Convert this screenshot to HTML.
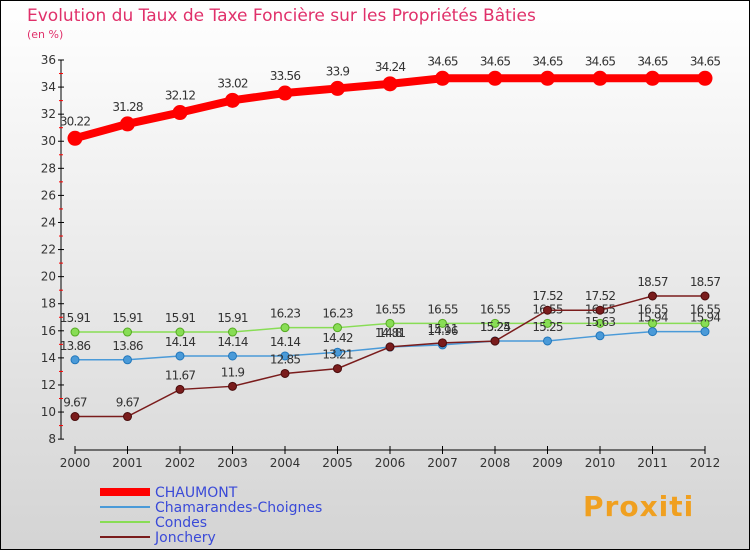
<!DOCTYPE html>
<html><head><meta charset="utf-8"><style>
body{margin:0;width:750px;height:550px;overflow:hidden;font-family:"DejaVu Sans","Liberation Sans",sans-serif}
#wrap{position:absolute;left:0;top:0;width:748px;height:548px;border:1px solid #000;background:linear-gradient(#ffffff,#d4d4d4)}
</style></head><body>
<div id="wrap">
<svg id="chart" width="750" height="550" style="position:absolute;left:-1px;top:-1px"></svg>
</div>
<script>
const years=["2000","2001","2002","2003","2004","2005","2006","2007","2008","2009","2010","2011","2012"];
const chaumont=[30.22,31.28,32.12,33.02,33.56,33.9,34.24,34.65,34.65,34.65,34.65,34.65,34.65];
const chamarandes=[13.86,13.86,14.14,14.14,14.14,14.42,14.8,14.96,15.25,15.25,15.63,15.94,15.94];
const condes=[15.91,15.91,15.91,15.91,16.23,16.23,16.55,16.55,16.55,16.55,16.55,16.55,16.55];
const jonchery=[9.67,9.67,11.67,11.9,12.85,13.21,14.81,15.11,15.24,17.52,17.52,18.57,18.57];
const yTicks=[8,10,12,14,16,18,20,22,24,26,28,30,32,34,36];
const seriesNames=["CHAUMONT","Chamarandes-Choignes","Condes","Jonchery"];
const NS="http://www.w3.org/2000/svg";
const svg=document.getElementById('chart');
function X(i){return 75+i*52.5;}
function Y(v){return 60+(36-v)*13.54;}
function mk(t,a,p){const e=document.createElementNS(NS,t);for(const k in a)e.setAttribute(k,a[k]);(p||svg).appendChild(e);return e;}
function txt(x,y,s,a){const e=mk('text',Object.assign({x:x,y:y,'font-size':12,fill:'#333','font-family':'DejaVu Sans, Liberation Sans, sans-serif'},a||{}));e.textContent=s;return e;}
let t=txt(27,21,"Evolution du Taux de Taxe Foncière sur les Propriétés Bâties",{'font-size':17,fill:'#e0306a'});


t=txt(27,38,"(en %)",{'font-size':11,fill:'#e0306a'});


let ax=mk('line',{x1:61,y1:Y(36),x2:61,y2:Y(8),stroke:'#000','stroke-width':1});


yTicks.forEach(v=>{
 mk('line',{x1:58,x2:64,y1:Y(v),y2:Y(v),stroke:'#000'});
 if(v<36)mk('line',{x1:59,x2:63,y1:Y(v+1),y2:Y(v+1),stroke:'#f00'});
 const l=txt(56,Y(v)+4,String(v),{'text-anchor':'end','font-size':12});
 
 
});
ax=mk('line',{x1:X(0),y1:450,x2:X(12),y2:450,stroke:'#000'});


years.forEach((y,i)=>{
 mk('line',{x1:X(i),x2:X(i),y1:446,y2:454,stroke:'#000'});
 const l=txt(X(i),467,y,{'text-anchor':'middle','font-size':12});
 
 
});
function series(d,col,w,r,name,lc){
 const g=mk('g',{});
 
 
 mk('polyline',{points:d.map((v,i)=>X(i)+','+Y(v)).join(' '),fill:'none',stroke:col,'stroke-width':w},g);
 d.forEach((v,i)=>{
  const c=mk('circle',{cx:X(i),cy:Y(v),r:r,fill:col,stroke:lc||col,'stroke-width':1},g);
  
  
  const l=txt(X(i),Y(v)-r-6,String(v),{'text-anchor':'middle','font-size':12,'letter-spacing':'-0.8'},g);
  
  
 });
}
series(condes,'#88dd55',1.5,4,'condes','#55aa22');
series(chamarandes,'#4a9ad8',1.5,4,'chamarandes','#2277bb');
series(jonchery,'#7a1c1c',1.5,4,'jonchery','#4a0c0c');
series(chaumont,'#ff0000',8,7,'chaumont');
const cols=['#ff0000','#4a9ad8','#88dd55','#7a1c1c'],ws=[8,2,2,2];
seriesNames.forEach((n,i)=>{
 const y=492+i*15;
 const g=mk('g',{});
 
 
 mk('line',{x1:100,x2:150,y1:y,y2:y,stroke:cols[i],'stroke-width':ws[i]},g);
 txt(155,y+5,n,{'font-size':14,fill:'#3a4ad8'},g);
});
const logo=txt(583,516,"Proxiti",{'font-size':28,'font-weight':'bold',fill:'#f0a020','letter-spacing':'1'});


</script>
</body></html>
